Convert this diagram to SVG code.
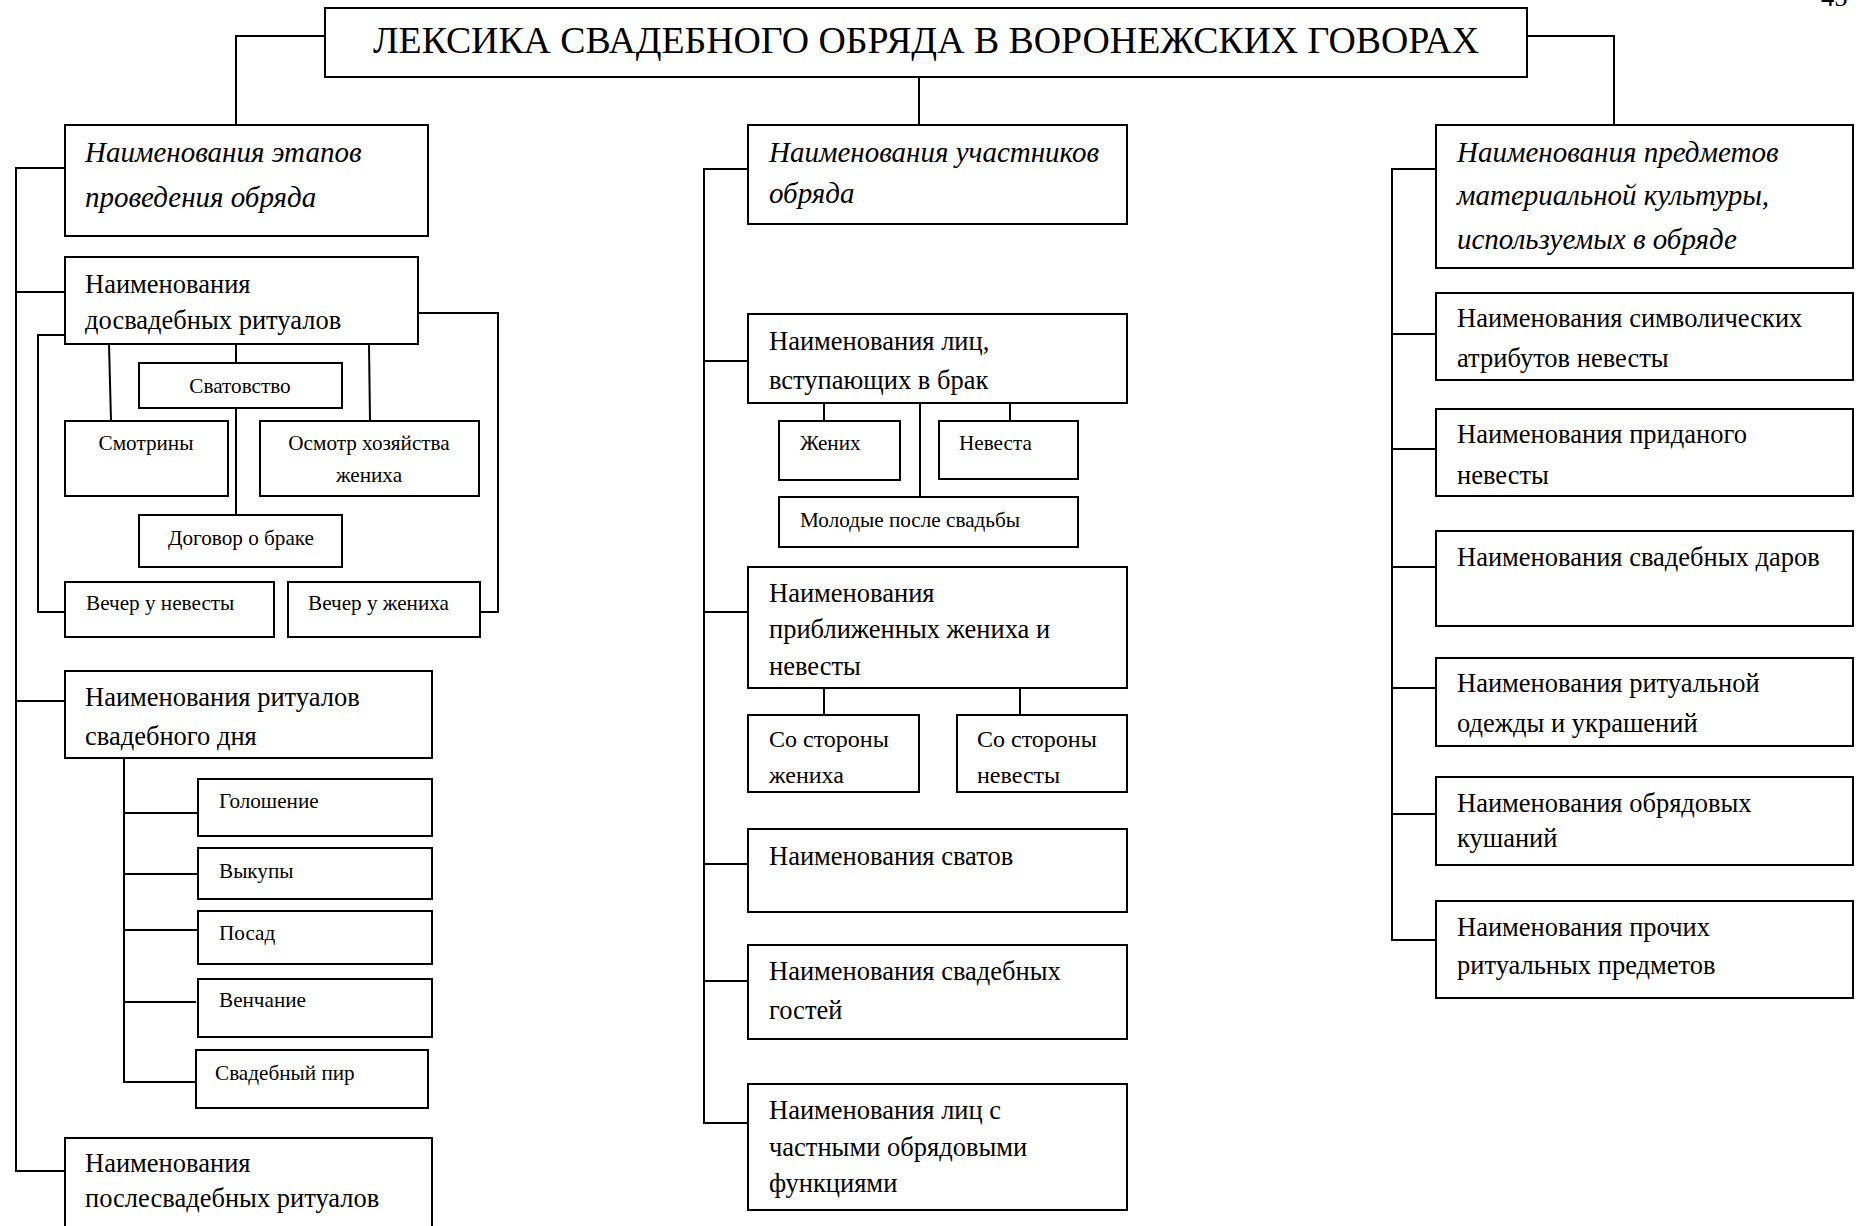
<svg xmlns="http://www.w3.org/2000/svg" width="1858" height="1226" viewBox="0 0 1858 1226">
<style>
rect{fill:#fff;stroke:#000;stroke-width:2}
.c path,.c line{fill:none;stroke:#000;stroke-width:2}
text{font-family:"Liberation Serif","Times New Roman",serif;fill:#000}
.t{font-size:37.8px}
.h{font-size:29px;font-style:italic}
.m{font-size:26.5px}
.n{font-size:24px}
.s{font-size:21.2px}
.mid{text-anchor:middle}
</style>
<rect x="0" y="0" width="1858" height="1226" style="stroke:none"/>
<text x="1821" y="6" class="m">45</text>
<g class="c" id="connectors">
<path d="M325 36H236V125"/>
<path d="M919 77V125"/>
<path d="M1527 36H1614V125"/>
<path d="M65 168H16V1171H65"/>
<line x1="16" y1="292" x2="65" y2="292"/>
<line x1="16" y1="701" x2="65" y2="701"/>
<path d="M65 335H38V612H65"/>
<path d="M418 313H498V612H480"/>
<line x1="109" y1="344" x2="111" y2="421"/>
<line x1="236" y1="344" x2="236" y2="363"/>
<line x1="369" y1="344" x2="370" y2="421"/>
<line x1="236" y1="408" x2="236" y2="515"/>
<path d="M124 758V1082H196"/>
<line x1="124" y1="813" x2="198" y2="813"/>
<line x1="124" y1="874" x2="198" y2="874"/>
<line x1="124" y1="930" x2="198" y2="930"/>
<line x1="124" y1="1002" x2="196" y2="1002"/>
<path d="M748 169H704V1123H748"/>
<line x1="704" y1="361" x2="748" y2="361"/>
<line x1="704" y1="612" x2="748" y2="612"/>
<line x1="704" y1="864" x2="748" y2="864"/>
<line x1="704" y1="981" x2="748" y2="981"/>
<line x1="824" y1="403" x2="824" y2="421"/>
<line x1="920" y1="403" x2="920" y2="497"/>
<line x1="1010" y1="403" x2="1010" y2="421"/>
<line x1="824" y1="688" x2="824" y2="715"/>
<line x1="1020" y1="688" x2="1020" y2="715"/>
<path d="M1436 169H1392V940H1436"/>
<line x1="1392" y1="334" x2="1436" y2="334"/>
<line x1="1392" y1="449" x2="1436" y2="449"/>
<line x1="1392" y1="567" x2="1436" y2="567"/>
<line x1="1392" y1="688" x2="1436" y2="688"/>
<line x1="1392" y1="814" x2="1436" y2="814"/>
</g>
<g id="title"><rect x="325" y="8" width="1202" height="69"/><text x="926" y="53" class="t mid">ЛЕКСИКА СВАДЕБНОГО ОБРЯДА В ВОРОНЕЖСКИХ ГОВОРАХ</text></g>
<g id="stages"><rect x="65" y="125" width="363" height="111"/><text class="h"><tspan x="85" y="162">Наименования этапов</tspan><tspan x="85" y="207">проведения обряда</tspan></text></g>
<g id="prewedding"><rect x="65" y="257" width="353" height="87"/><text class="m"><tspan x="85" y="293">Наименования</tspan><tspan x="85" y="329">досвадебных ритуалов</tspan></text></g>
<g id="svatovstvo"><rect x="139" y="363" width="203" height="45"/><text x="240" y="393" class="s mid">Сватовство</text></g>
<g id="smotriny"><rect x="65" y="421" width="163" height="75"/><text x="146" y="450" class="s mid">Смотрины</text></g>
<g id="osmotr"><rect x="260" y="421" width="219" height="75"/><text class="s mid"><tspan x="369" y="450">Осмотр хозяйства</tspan><tspan x="369" y="482">жениха</tspan></text></g>
<g id="dogovor"><rect x="139" y="515" width="203" height="52"/><text x="241" y="545" class="s mid">Договор о браке</text></g>
<g id="vecher-nevesta"><rect x="65" y="582" width="209" height="55"/><text x="86" y="610" class="s">Вечер у невесты</text></g>
<g id="vecher-zhenikh"><rect x="288" y="582" width="192" height="55"/><text x="308" y="610" class="s">Вечер у жениха</text></g>
<g id="wedding-day"><rect x="65" y="671" width="367" height="87"/><text class="m"><tspan x="85" y="706">Наименования ритуалов</tspan><tspan x="85" y="745">свадебного дня</tspan></text></g>
<g id="goloshenie"><rect x="198" y="779" width="234" height="57"/><text x="219" y="808" class="s">Голошение</text></g>
<g id="vykupy"><rect x="198" y="848" width="234" height="51"/><text x="219" y="878" class="s">Выкупы</text></g>
<g id="posad"><rect x="198" y="911" width="234" height="53"/><text x="219" y="940" class="s">Посад</text></g>
<g id="venchanie"><rect x="198" y="979" width="234" height="58"/><text x="219" y="1007" class="s">Венчание</text></g>
<g id="pir"><rect x="196" y="1050" width="232" height="58"/><text x="215" y="1080" class="s">Свадебный пир</text></g>
<g id="postwedding"><rect x="65" y="1138" width="367" height="100"/><text class="m"><tspan x="85" y="1172">Наименования</tspan><tspan x="85" y="1207">послесвадебных ритуалов</tspan></text></g>
<g id="participants"><rect x="748" y="125" width="379" height="99"/><text class="h"><tspan x="769" y="162">Наименования участников</tspan><tspan x="769" y="203">обряда</tspan></text></g>
<g id="marrying"><rect x="748" y="314" width="379" height="89"/><text class="m"><tspan x="769" y="350">Наименования лиц,</tspan><tspan x="769" y="389">вступающих в брак</tspan></text></g>
<g id="zhenikh"><rect x="779" y="421" width="121" height="59"/><text x="800" y="450" class="s">Жених</text></g>
<g id="nevesta"><rect x="939" y="421" width="139" height="58"/><text x="959" y="450" class="s">Невеста</text></g>
<g id="molodye"><rect x="779" y="497" width="299" height="50"/><text x="800" y="527" class="s">Молодые после свадьбы</text></g>
<g id="close"><rect x="748" y="567" width="379" height="121"/><text class="m"><tspan x="769" y="602">Наименования</tspan><tspan x="769" y="638">приближенных жениха и</tspan><tspan x="769" y="675">невесты</tspan></text></g>
<g id="side-zhenikh"><rect x="748" y="715" width="171" height="77"/><text class="n"><tspan x="769" y="747">Со стороны</tspan><tspan x="769" y="783">жениха</tspan></text></g>
<g id="side-nevesta"><rect x="957" y="715" width="170" height="77"/><text class="n"><tspan x="977" y="747">Со стороны</tspan><tspan x="977" y="783">невесты</tspan></text></g>
<g id="svaty"><rect x="748" y="829" width="379" height="83"/><text x="769" y="865" class="m">Наименования сватов</text></g>
<g id="guests"><rect x="748" y="945" width="379" height="94"/><text class="m"><tspan x="769" y="980">Наименования свадебных</tspan><tspan x="769" y="1019">гостей</tspan></text></g>
<g id="functions"><rect x="748" y="1084" width="379" height="126"/><text class="m"><tspan x="769" y="1119">Наименования лиц с</tspan><tspan x="769" y="1156">частными обрядовыми</tspan><tspan x="769" y="1192">функциями</tspan></text></g>
<g id="objects"><rect x="1436" y="125" width="417" height="143"/><text class="h"><tspan x="1457" y="162">Наименования предметов</tspan><tspan x="1457" y="205">материальной культуры,</tspan><tspan x="1457" y="249">используемых в обряде</tspan></text></g>
<g id="symbolic"><rect x="1436" y="293" width="417" height="87"/><text class="m"><tspan x="1457" y="327">Наименования символических</tspan><tspan x="1457" y="367">атрибутов невесты</tspan></text></g>
<g id="dowry"><rect x="1436" y="409" width="417" height="87"/><text class="m"><tspan x="1457" y="443">Наименования приданого</tspan><tspan x="1457" y="484">невесты</tspan></text></g>
<g id="gifts"><rect x="1436" y="531" width="417" height="95"/><text x="1457" y="566" class="m">Наименования свадебных даров</text></g>
<g id="clothes"><rect x="1436" y="658" width="417" height="88"/><text class="m"><tspan x="1457" y="692">Наименования ритуальной</tspan><tspan x="1457" y="732">одежды и украшений</tspan></text></g>
<g id="food"><rect x="1436" y="777" width="417" height="88"/><text class="m"><tspan x="1457" y="812">Наименования обрядовых</tspan><tspan x="1457" y="847">кушаний</tspan></text></g>
<g id="other"><rect x="1436" y="901" width="417" height="97"/><text class="m"><tspan x="1457" y="936">Наименования прочих</tspan><tspan x="1457" y="974">ритуальных предметов</tspan></text></g>
</svg>
